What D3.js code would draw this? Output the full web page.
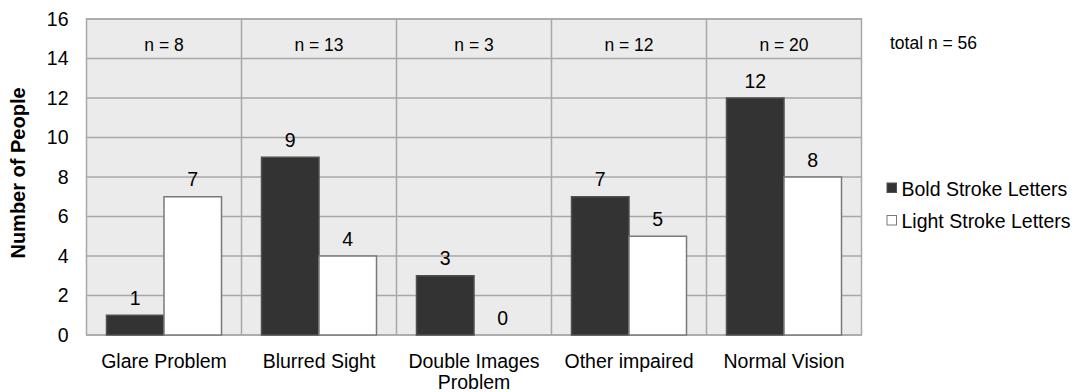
<!DOCTYPE html>
<html><head><meta charset="utf-8">
<script src="https://cdn.jsdelivr.net/npm/d3@7"></script>
<style>body{margin:0;background:#fff}svg{display:block}text{font-family:"Liberation Sans",Arial,sans-serif;fill:#000}</style>
</head><body><svg id="c" width="1082" height="392"></svg>
<script>
const categories = ["Glare Problem", "Blurred Sight", "Double Images Problem", "Other impaired", "Normal Vision"];
const categoryLines = [["Glare Problem"], ["Blurred Sight"], ["Double Images", "Problem"], ["Other impaired"], ["Normal Vision"]];
const seriesNames = ["Bold Stroke Letters", "Light Stroke Letters"];
const boldValues = [1, 9, 3, 7, 12];
const lightValues = [7, 4, 0, 5, 8];
const groupN = [8, 13, 3, 12, 20];
const totalLabel = "total n = 56";
const yTicks = [0, 2, 4, 6, 8, 10, 12, 14, 16];
const yTitle = "Number of People";

const svg = d3.select("#c");
const L = 86.5, R = 861.5, T = 19, B = 335;
const x = d3.scaleBand().domain(categories).range([L, R]).padding(0);
const xs = d3.scaleBand().domain(seriesNames).range([20, x.bandwidth() - 20]).padding(0);
const y = d3.scaleLinear().domain([0, 16]).range([B, T]);
const fills = ["#333333", "#ffffff"];
const strokes = ["#505050", "#7a7a7a"];
const gridC = "#a8a8a8";

svg.append("rect").attr("x", L).attr("y", T).attr("width", R - L).attr("height", B - T).attr("fill", "#ebebeb");

svg.append("g").selectAll("line").data(yTicks).join("line")
  .attr("x1", L).attr("x2", R).attr("y1", d => y(d)).attr("y2", d => y(d))
  .attr("stroke", gridC).attr("stroke-width", 1.5);
svg.append("g").selectAll("line").data(categories.slice(1)).join("line")
  .attr("x1", d => x(d)).attr("x2", d => x(d)).attr("y1", T).attr("y2", B)
  .attr("stroke", gridC).attr("stroke-width", 1.5);
svg.append("rect").attr("x", L).attr("y", T).attr("width", R - L).attr("height", B - T)
  .attr("fill", "none").attr("stroke", gridC).attr("stroke-width", 1.5);

const yAxis = d3.axisLeft(y).tickValues(yTicks).tickSize(0).tickPadding(18);
const ga = svg.append("g").attr("transform", `translate(${L},0)`).call(yAxis);
ga.select(".domain").remove();
ga.selectAll("text").attr("font-size", 19.5).attr("font-family", "Liberation Sans, Arial, sans-serif").attr("fill", "#000");

svg.append("text").attr("transform", `translate(25,${(T + B) / 2 - 4}) rotate(-90)`)
  .attr("text-anchor", "middle").attr("font-size", 20).attr("font-weight", "bold").text(yTitle);

const data = [];
categories.forEach((c, i) => {
  data.push({c, s: seriesNames[0], v: boldValues[i], k: 0});
  data.push({c, s: seriesNames[1], v: lightValues[i], k: 1});
});
const g = svg.append("g");
g.selectAll("rect").data(data).join("rect")
  .attr("x", d => x(d.c) + xs(d.s)).attr("width", xs.bandwidth())
  .attr("y", d => y(d.v)).attr("height", d => y(0) - y(d.v))
  .attr("fill", d => fills[d.k]).attr("stroke", d => strokes[d.k]).attr("stroke-width", 1.5);
g.selectAll("text").data(data).join("text")
  .attr("x", d => x(d.c) + xs(d.s) + xs.bandwidth() / 2).attr("y", d => y(d.v) - 10.5)
  .attr("text-anchor", "middle").attr("font-size", 19.5).text(d => d.v);

svg.append("g").selectAll("text").data(categories).join("text")
  .attr("x", d => x(d) + x.bandwidth() / 2).attr("y", 51)
  .attr("text-anchor", "middle").attr("font-size", 17.5).text((d, i) => "n = " + groupN[i]);
svg.append("text").attr("x", 890).attr("y", 49).attr("font-size", 17.5).text(totalLabel);

const cl = svg.append("g").selectAll("text").data(categories).join("text")
  .attr("x", d => x(d) + x.bandwidth() / 2).attr("y", 368)
  .attr("text-anchor", "middle").attr("font-size", 19.5);
cl.selectAll("tspan").data((d, i) => categoryLines[i]).join("tspan")
  .attr("x", function() { return d3.select(this.parentNode).attr("x"); })
  .attr("dy", (d, j) => j === 0 ? 0 : 21).text(d => d);

const lg = svg.append("g").selectAll("g").data(seriesNames).join("g")
  .attr("transform", (d, i) => `translate(887,${183 + i * 32.5})`);
lg.append("rect").attr("width", 9.5).attr("height", 9.5)
  .attr("fill", (d, i) => fills[i]).attr("stroke", (d, i) => strokes[i]).attr("stroke-width", 1);
lg.append("text").attr("x", 14.5).attr("y", 12.5).attr("font-size", 19.5).text(d => d);
</script></body></html>
